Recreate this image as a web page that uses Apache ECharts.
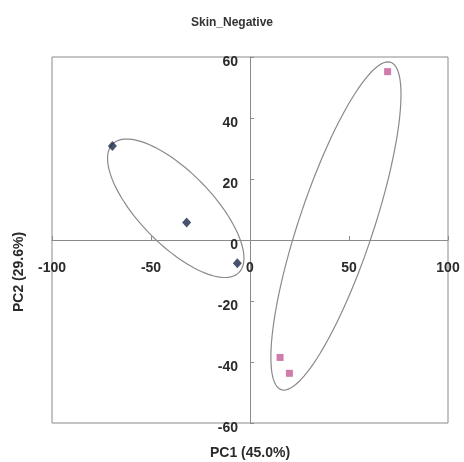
<!DOCTYPE html>
<html>
<head>
<meta charset="utf-8">
<script src="https://cdn.jsdelivr.net/npm/echarts@6/dist/echarts.min.js"></script>
<style>html,body{margin:0;padding:0;background:#fff;}#c{width:464px;height:462px;}</style>
</head>
<body>
<div id="c"></div>
<script>
// Data
var groupBlue = [[-69.5, 30.8], [-32, 5.7], [-6.4, -7.6]];
var groupPink = [[69.5, 55.2], [15.2, -38.5], [19.9, -43.7]];
var xTicks = [-100, -50, 0, 50, 100];
var yTicks = [-60, -40, -20, 0, 20, 40, 60];
// Confidence ellipses: centre and two conjugate semi-axis vectors (data units)
var ellipseCenters = [[-37.5, 10.4], [43.4, 4.6]];
var ellipseAxisA = [[-24.8, 22.7], [26.3, 53.8]];
var ellipseAxisB = [[23.9, 0], [19.7, 0]];

var chart = echarts.init(document.getElementById('c'), null, {renderer: 'canvas'});
var labelFont = {fontFamily: 'Liberation Sans, Arial, sans-serif', fontWeight: 'bold', fontSize: 14, color: '#2a2a2a'};
var axisGray = '#8a8a8a';

function baseX(extra) {
  return Object.assign({
    type: 'value', min: xTicks[0], max: xTicks[xTicks.length - 1], interval: 50,
    splitLine: {show: false}
  }, extra);
}
function baseY(extra) {
  return Object.assign({
    type: 'value', min: yTicks[0], max: yTicks[yTicks.length - 1], interval: 20,
    splitLine: {show: false}
  }, extra);
}

var option = {
  backgroundColor: '#fff',
  animation: false,
  title: {
    text: 'Skin_Negative',
    left: 'center',
    top: 12,
    textStyle: {fontFamily: 'Liberation Sans, Arial, sans-serif', fontWeight: 'bold', fontSize: 12, color: '#333'}
  },
  graphic: [
    {type: 'text', x: 250, y: 453, style: {text: 'PC1 (45.0%)', font: 'bold 14px "Liberation Sans", Arial, sans-serif', fill: '#2a2a2a', textAlign: 'center', textVerticalAlign: 'middle'}},
    {type: 'text', x: 19, y: 272, rotation: Math.PI / 2, style: {text: 'PC2 (29.6%)', font: 'bold 14px "Liberation Sans", Arial, sans-serif', fill: '#2a2a2a', textAlign: 'center', textVerticalAlign: 'middle'}}
  ],
  grid: {left: 52, right: 16, top: 57, bottom: 39, show: true, borderColor: axisGray, borderWidth: 1, backgroundColor: 'transparent'},
  xAxis: [
    baseX({
      axisLine: {onZero: true, lineStyle: {color: axisGray, width: 1}},
      axisTick: {inside: true, length: 4, lineStyle: {color: axisGray}},
      axisLabel: {show: false}
    }),
    baseX({
      position: 'bottom', offset: -183,
      axisLine: {show: false}, axisTick: {show: false},
      axisLabel: Object.assign({margin: 21, showMinLabel: true, showMaxLabel: true}, labelFont)
    })
  ],
  yAxis: [
    baseY({
      axisLine: {onZero: true, lineStyle: {color: axisGray, width: 1}},
      axisTick: {inside: true, length: 4, lineStyle: {color: axisGray}},
      axisLabel: {show: false}
    }),
    baseY({
      position: 'left', offset: -198,
      axisLine: {show: false}, axisTick: {show: false},
      axisLabel: Object.assign({margin: 12, verticalAlign: 'top', lineHeight: 11, showMinLabel: true, showMaxLabel: true}, labelFont)
    })
  ],
  series: [
    {
      type: 'custom',
      silent: true,
      z: 1,
      data: ellipseCenters.map(function (c, i) { return [c[0], c[1], i]; }),
      encode: {x: 0, y: 1},
      renderItem: function (params, api) {
        var i = api.value(2);
        var c = ellipseCenters[i], A = ellipseAxisA[i], B = ellipseAxisB[i];
        var pts = [];
        for (var k = 0; k < 120; k++) {
          var t = k / 120 * Math.PI * 2;
          var x = c[0] + A[0] * Math.cos(t) + B[0] * Math.sin(t);
          var y = c[1] + A[1] * Math.cos(t) + B[1] * Math.sin(t);
          pts.push(api.coord([x, y]));
        }
        return {type: 'polygon', shape: {points: pts}, style: {fill: 'none', stroke: axisGray, lineWidth: 1.2}};
      }
    },
    {
      type: 'scatter', z: 3,
      data: groupBlue,
      symbol: 'diamond', symbolSize: [9, 10],
      itemStyle: {color: '#1a2848'}
    },
    {
      type: 'scatter', z: 3,
      data: groupPink,
      symbol: 'rect', symbolSize: 7,
      itemStyle: {color: '#c45a96'}
    }
  ]
};
chart.setOption(option);
</script>
</body>
</html>
